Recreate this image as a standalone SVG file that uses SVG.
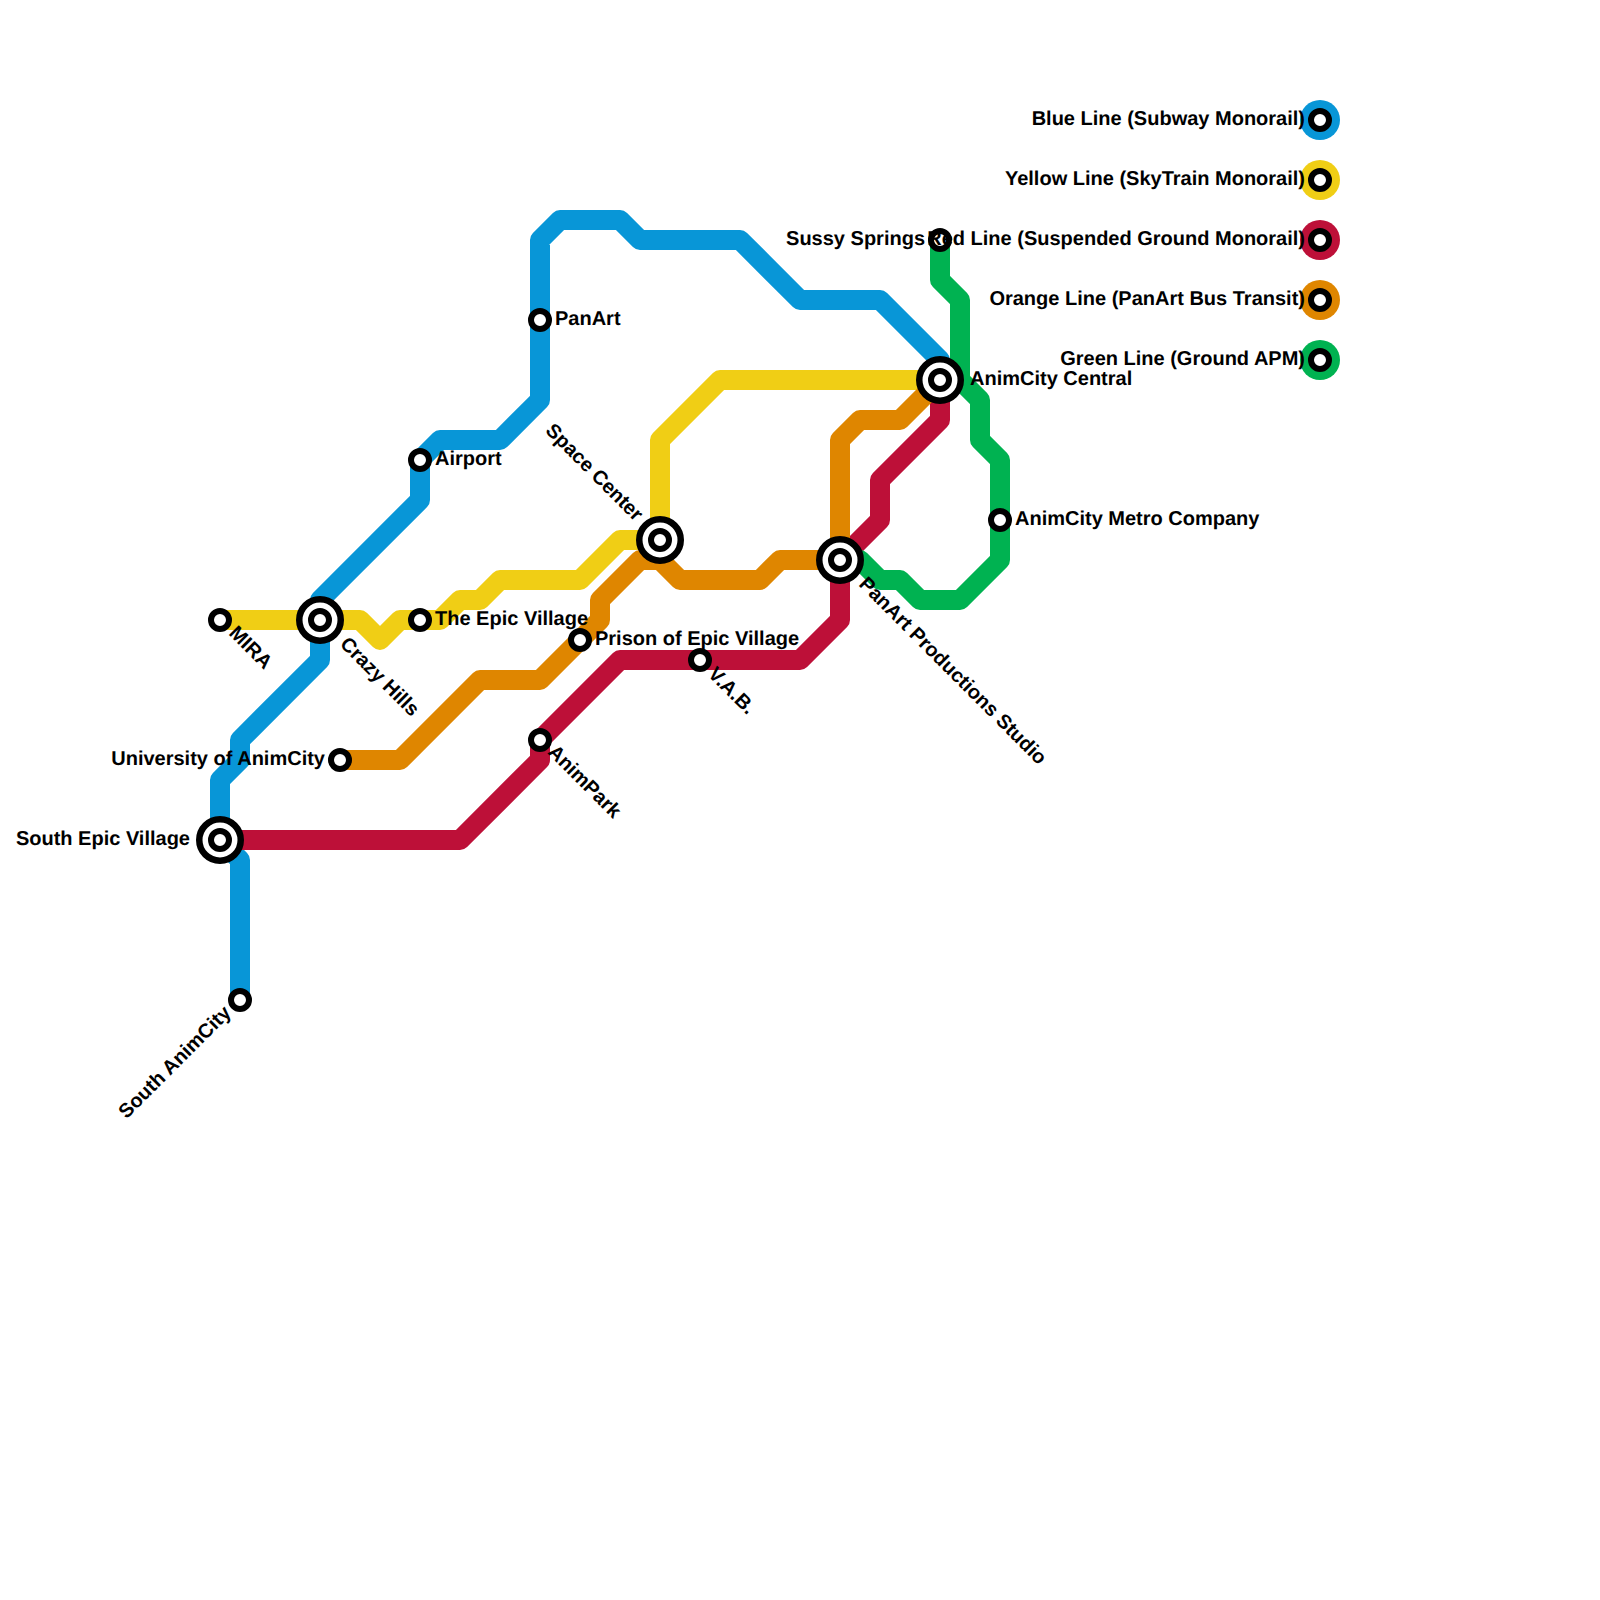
<svg xmlns="http://www.w3.org/2000/svg" width="1600" height="1600" viewBox="0 0 1600 1600">
<style>
.ln{fill:none;stroke-width:20;stroke-linecap:round;stroke-linejoin:round}
.r{fill:#fff;stroke:#000;stroke-width:6}
.o{fill:#fff;stroke:#000;stroke-width:6.5}
text{font-family:"Liberation Sans",Arial,sans-serif;font-weight:700;font-size:20px;fill:#000;text-rendering:geometricPrecision}
.e{text-anchor:end}
</style>
<defs>
<g id="st"><circle class="r" r="9"/></g>
<g id="ix"><circle class="o" r="20.75"/><circle class="r" r="9"/></g>
</defs>
<rect width="1600" height="1600" fill="#fff"/>
<g id="connectors">
<path class="ln" stroke="#0896d7" d="M240 1000V860L220 840V780L240 760V740L320 660V600L420 500V460L440 440H500L540 400V240L560 220H620L640 240H740L800 300H880L940 360V380"/>
<path class="ln" stroke="#f0ce15" d="M220 620H360L380 640L400 620H440L460 600H480L500 580H580L620 540H660V440L720 380H940"/>
<path class="ln" stroke="#bd1038" d="M220 840H460L540 760V740L620 660H800L840 620V560L880 520V480L940 420V380"/>
<path class="ln" stroke="#df8600" d="M340 760H400L480 680H540L600 620V600L640 560H660L680 580H760L780 560H840V440L860 420H900L940 380"/>
<path class="ln" stroke="#00b251" d="M940 240V280L960 300V380L980 400V440L1000 460V560L960 600H920L900 580H880L860 560H840"/>
</g>
<g id="n-mira"><use href="#st" x="220" y="620"/><text transform="translate(228 634) rotate(45)">MIRA</text></g>
<g id="n-crazy-hills"><use href="#ix" x="320" y="620"/><text transform="translate(339 645) rotate(45)">Crazy Hills</text></g>
<g id="n-epic-village"><use href="#st" x="420" y="620"/><text x="435" y="625">The Epic Village</text></g>
<g id="n-airport"><use href="#st" x="420" y="460"/><text x="435" y="465">Airport</text></g>
<g id="n-panart"><use href="#st" x="540" y="320"/><text x="555" y="325">PanArt</text></g>
<g id="n-university"><use href="#st" x="340" y="760"/><text class="e" x="325" y="765">University of AnimCity</text></g>
<g id="n-south-epic"><use href="#ix" x="220" y="840"/><text class="e" x="190" y="845">South Epic Village</text></g>
<g id="n-south-animcity"><use href="#st" x="240" y="1000"/><text class="e" transform="translate(232 1014) rotate(-45)">South AnimCity</text></g>
<g id="n-animpark"><use href="#st" x="540" y="740"/><text transform="translate(547 753) rotate(45)">AnimPark</text></g>
<g id="n-prison"><use href="#st" x="580" y="640"/><text x="595" y="645">Prison of Epic Village</text></g>
<g id="n-vab"><use href="#st" x="700" y="660"/><text transform="translate(707 675) rotate(45)">V.A.B.</text></g>
<g id="n-space-center"><use href="#ix" x="660" y="540"/><text class="e" transform="translate(635 522) rotate(45)">Space Center</text></g>
<g id="n-panart-studio"><use href="#ix" x="840" y="560"/><text transform="translate(858 585) rotate(45)">PanArt Productions Studio</text></g>
<g id="n-central"><use href="#ix" x="940" y="380"/><text x="970" y="385">AnimCity Central</text></g>
<g id="n-sussy"><use href="#st" x="940" y="240"/><text class="e" x="925" y="245">Sussy Springs</text></g>
<g id="n-metro"><use href="#st" x="1000" y="520"/><text x="1015" y="525">AnimCity Metro Company</text></g>
<g id="legend-blue"><circle cx="1320" cy="120" r="20" fill="#0896d7"/><use href="#st" x="1320" y="120"/><text class="e" x="1305" y="125">Blue Line (Subway Monorail)</text></g>
<g id="legend-yellow"><circle cx="1320" cy="180" r="20" fill="#f0ce15"/><use href="#st" x="1320" y="180"/><text class="e" x="1305" y="185">Yellow Line (SkyTrain Monorail)</text></g>
<g id="legend-red"><circle cx="1320" cy="240" r="20" fill="#bd1038"/><use href="#st" x="1320" y="240"/><text class="e" x="1305" y="245">Red Line (Suspended Ground Monorail)</text></g>
<g id="legend-orange"><circle cx="1320" cy="300" r="20" fill="#df8600"/><use href="#st" x="1320" y="300"/><text class="e" x="1305" y="305">Orange Line (PanArt Bus Transit)</text></g>
<g id="legend-green"><circle cx="1320" cy="360" r="20" fill="#00b251"/><use href="#st" x="1320" y="360"/><text class="e" x="1305" y="365">Green Line (Ground APM)</text></g>
</svg>
